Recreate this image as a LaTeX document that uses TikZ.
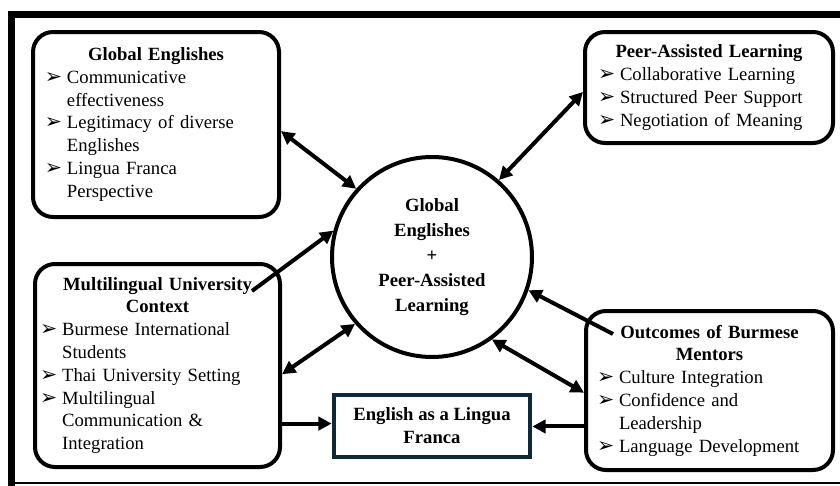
\documentclass[tikz,border=0pt]{standalone}
\usepackage{fontspec}
\setmainfont{Liberation Serif}
\newfontfamily\dingfont{DejaVu Sans}[Scale=1.1]
\usetikzlibrary{arrows.meta}

\setlength{\parindent}{0pt}
\newlength{\bulind}
\setlength{\bulind}{16.5pt}
\newcommand{\bul}[1]{\par\hangindent=\bulind\hangafter=1\makebox[\bulind][l]{\dingfont ➢}#1\par}

\definecolor{elfnavy}{RGB}{16,41,58}

\tikzset{
  card/.style={draw, line width=3pt, rounded corners=15pt, inner sep=0pt, align=left,
    font=\fontsize{14}{17.1}\selectfont},
  hub/.style={draw, circle, line width=3pt, inner sep=0pt, minimum size=150pt, align=center,
    font=\fontsize{14}{18.75}\selectfont\bfseries},
  elfbox/.style={draw=elfnavy, line width=3.5pt, inner sep=0pt, align=center,
    minimum width=147pt, minimum height=46.5pt, font=\fontsize{14}{17.1}\selectfont\bfseries},
  link/.style={line width=3pt, -{Triangle[length=10pt,width=10pt]}},
  twoway/.style={line width=3pt, {Triangle[length=10pt,width=10pt]}-{Triangle[length=10pt,width=10pt]}}
}

\begin{document}
\begin{tikzpicture}[x=0.75pt, y=-0.75pt]
\useasboundingbox (0,0) rectangle (840,486);

% frame
\draw[line width=5.25pt] (840,14.5) -- (11.5,14.5) -- (11.5,486);
\draw[line width=1pt] (8,483) -- (840,483);

\node[hub] (hub) at (432,257) {Global\\Englishes\\+\\Peer-Assisted\\Learning};

\node[card, text width=166.5pt, minimum width=184.5pt, minimum height=138.75pt] (ge) at (156,124.5)
  {{\centering\textbf{Global Englishes}\par}
   \bul{Communicative\newline effectiveness}
   \bul{Legitimacy of diverse\newline Englishes}
   \bul{Lingua Franca\newline Perspective}};

\node[card, text width=166.5pt, minimum width=186pt, minimum height=83.25pt] (pal) at (709,87.5)
  {{\centering\textbf{Peer-Assisted Learning}\par}
   \bul{Collaborative Learning}
   \bul{Structured Peer Support}
   \bul{Negotiation of Meaning}};

\node[card, text width=176pt, minimum width=183.75pt, minimum height=152.25pt] (mu) at (157.5,365.5)
  {{\centering\textbf{Multilingual University\\Context}\par}
   \bul{Burmese International\newline Students}
   \bul{Thai University Setting}
   \bul{Multilingual\newline Communication \&\newline Integration}};

\node[card, text width=168.75pt, minimum width=185.25pt, minimum height=119.25pt] (oc) at (709.5,390.5)
  {{\centering\textbf{Outcomes of Burmese\\Mentors}\par}
   \bul{Culture Integration}
   \bul{Confidence and\newline Leadership}
   \bul{Language Development}};

\node[elfbox] (elf) at (432,426) {English as a Lingua\\Franca};

\coordinate (mustart) at (252,291);
\coordinate (ocstart) at (613,334);

\draw[twoway] (ge.-3) -- (hub.138);
\draw[twoway] (pal.182.5) -- (hub.49);
\draw[link] (mustart) -- (hub.165);
\draw[twoway] (mu.-4) -- (hub.221);
\draw[link] (mu.-25) -- (mu.-25 -| elf.west);
\draw[link] (ocstart) -- (hub.-19.5);
\draw[twoway] (oc.181) -- (hub.-54);
\draw[link] (oc.196) -- (oc.196 -| elf.east);
\end{tikzpicture}
\end{document}
